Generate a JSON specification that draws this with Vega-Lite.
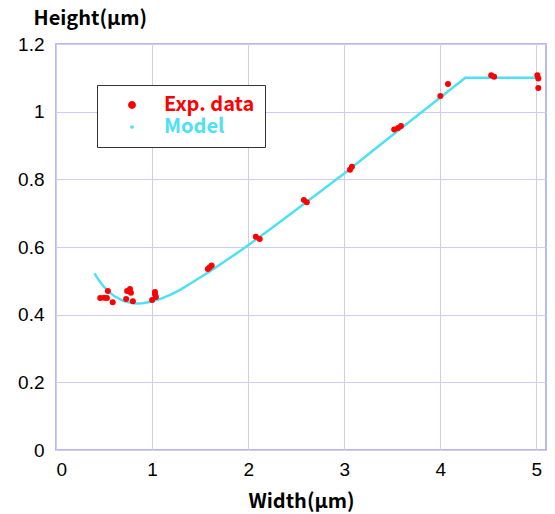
{
  "$schema": "https://vega.github.io/schema/vega-lite/v6.json",
  "width": 490,
  "height": 406,
  "autosize": "none",
  "padding": {"left": 56, "top": 44, "right": 9, "bottom": 64},
  "background": "white",
  "config": {
    "view": {"stroke": "#a0a0ee", "strokeWidth": 1.5},
    "axis": {
      "grid": true,
      "gridColor": "#ccccf6",
      "gridWidth": 1,
      "domain": false,
      "ticks": false,
      "labelFont": "Liberation Sans",
      "labelFontSize": 19,
      "labelColor": "#000000",
      "titleFont": "Noto Sans CJK JP",
      "titleFontSize": 20,
      "titleFontWeight": "bold",
      "titleColor": "#000000"
    }
  },
  "data": {
    "values": [
      {"series": "Exp. data", "w": 0.46, "h": 0.449},
      {"series": "Exp. data", "w": 0.5, "h": 0.45},
      {"series": "Exp. data", "w": 0.53, "h": 0.449},
      {"series": "Exp. data", "w": 0.54, "h": 0.47},
      {"series": "Exp. data", "w": 0.59, "h": 0.437},
      {"series": "Exp. data", "w": 0.73, "h": 0.446},
      {"series": "Exp. data", "w": 0.74, "h": 0.47},
      {"series": "Exp. data", "w": 0.77, "h": 0.476},
      {"series": "Exp. data", "w": 0.78, "h": 0.465},
      {"series": "Exp. data", "w": 0.8, "h": 0.44},
      {"series": "Exp. data", "w": 1.0, "h": 0.443},
      {"series": "Exp. data", "w": 1.03, "h": 0.467},
      {"series": "Exp. data", "w": 1.03, "h": 0.46},
      {"series": "Exp. data", "w": 1.04, "h": 0.452},
      {"series": "Exp. data", "w": 1.58, "h": 0.535},
      {"series": "Exp. data", "w": 1.6, "h": 0.54},
      {"series": "Exp. data", "w": 1.62, "h": 0.545},
      {"series": "Exp. data", "w": 2.08, "h": 0.63},
      {"series": "Exp. data", "w": 2.12, "h": 0.624},
      {"series": "Exp. data", "w": 2.58, "h": 0.739},
      {"series": "Exp. data", "w": 2.61, "h": 0.732},
      {"series": "Exp. data", "w": 3.06, "h": 0.828},
      {"series": "Exp. data", "w": 3.08, "h": 0.837},
      {"series": "Exp. data", "w": 3.52, "h": 0.947},
      {"series": "Exp. data", "w": 3.56, "h": 0.952},
      {"series": "Exp. data", "w": 3.59, "h": 0.958},
      {"series": "Exp. data", "w": 4.0, "h": 1.046},
      {"series": "Exp. data", "w": 4.08, "h": 1.082},
      {"series": "Exp. data", "w": 4.53, "h": 1.108},
      {"series": "Exp. data", "w": 4.56, "h": 1.103},
      {"series": "Exp. data", "w": 5.01, "h": 1.108},
      {"series": "Exp. data", "w": 5.02, "h": 1.098},
      {"series": "Exp. data", "w": 5.02, "h": 1.07},
      {"series": "Model", "w": 0.4, "h": 0.522},
      {"series": "Model", "w": 0.45, "h": 0.5},
      {"series": "Model", "w": 0.5, "h": 0.482},
      {"series": "Model", "w": 0.55, "h": 0.468},
      {"series": "Model", "w": 0.6, "h": 0.456},
      {"series": "Model", "w": 0.65, "h": 0.448},
      {"series": "Model", "w": 0.7, "h": 0.441},
      {"series": "Model", "w": 0.75, "h": 0.437},
      {"series": "Model", "w": 0.8, "h": 0.434},
      {"series": "Model", "w": 0.85, "h": 0.433},
      {"series": "Model", "w": 0.9, "h": 0.434},
      {"series": "Model", "w": 1.0, "h": 0.439},
      {"series": "Model", "w": 1.1, "h": 0.448},
      {"series": "Model", "w": 1.2, "h": 0.46},
      {"series": "Model", "w": 1.3, "h": 0.475},
      {"series": "Model", "w": 1.4, "h": 0.492},
      {"series": "Model", "w": 1.5, "h": 0.51},
      {"series": "Model", "w": 1.6, "h": 0.528},
      {"series": "Model", "w": 1.7, "h": 0.547},
      {"series": "Model", "w": 1.8, "h": 0.566},
      {"series": "Model", "w": 1.9, "h": 0.585},
      {"series": "Model", "w": 2.0, "h": 0.605},
      {"series": "Model", "w": 2.25, "h": 0.657},
      {"series": "Model", "w": 2.5, "h": 0.71},
      {"series": "Model", "w": 3.0, "h": 0.817},
      {"series": "Model", "w": 3.5, "h": 0.93},
      {"series": "Model", "w": 4.0, "h": 1.042},
      {"series": "Model", "w": 4.26, "h": 1.1},
      {"series": "Model", "w": 5.0, "h": 1.1}
    ]
  },
  "encoding": {
    "x": {
      "field": "w",
      "type": "quantitative",
      "scale": {"domain": [0, 5.1], "nice": false, "zero": false},
      "axis": {
        "values": [0, 1, 2, 3, 4, 5],
        "title": "Width(μm)",
        "labelPadding": 10,
        "titlePadding": 12
      }
    },
    "y": {
      "field": "h",
      "type": "quantitative",
      "scale": {"domain": [0, 1.2], "nice": false},
      "axis": {
        "values": [0, 0.2, 0.4, 0.6, 0.8, 1, 1.2],
        "format": "~g",
        "labelPadding": 12,
        "title": "Height(μm)",
        "titleAngle": 0,
        "titleAlign": "left",
        "titleBaseline": "alphabetic",
        "titleX": -23,
        "titleY": -20
      }
    },
    "color": {
      "field": "series",
      "type": "nominal",
      "scale": {"domain": ["Exp. data", "Model"], "range": ["#ff0000", "#4ee0f4"]},
      "legend": {
        "title": null,
        "orient": "none",
        "legendX": 41,
        "legendY": 41,
        "padding": 10,
        "strokeColor": "#333333",
        "fillColor": "#ffffff",
        "symbolType": "circle",
        "symbolOffset": 15,
        "labelOffset": 22,
        "labelFont": "Noto Sans CJK JP",
        "labelFontSize": 20,
        "labelFontWeight": "bold",
        "rowPadding": 2,
        "encode": {
          "symbols": {
            "update": {
              "size": {"signal": "datum.value === 'Model' ? 5 : 40"},
              "fill": {"signal": "datum.value === 'Model' ? '#4ee0f4' : '#ff0000'"},
              "stroke": {"value": "transparent"},
              "opacity": {"value": 1}
            }
          },
          "labels": {
            "update": {
              "fill": {"signal": "datum.value === 'Model' ? '#4ee0f4' : '#ff0000'"}
            }
          }
        }
      }
    }
  },
  "layer": [
    {
      "transform": [{"filter": "datum.series === 'Model'"}],
      "mark": {"type": "line", "strokeWidth": 2.5}
    },
    {
      "transform": [{"filter": "datum.series === 'Exp. data'"}],
      "mark": {"type": "point", "filled": true, "shape": "circle", "size": 36, "opacity": 1}
    }
  ]
}
